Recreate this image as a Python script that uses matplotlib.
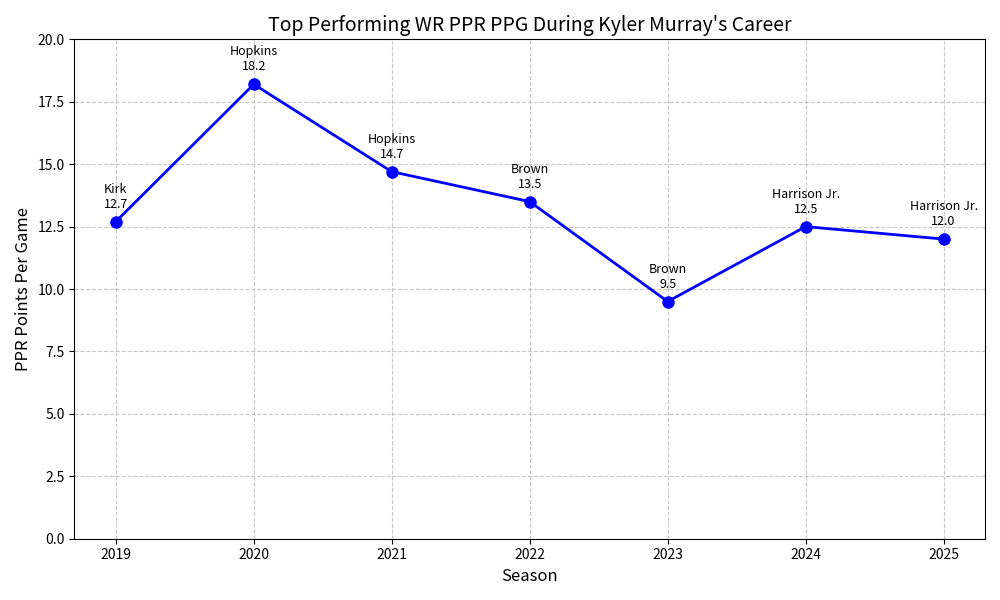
import matplotlib
matplotlib.use("Agg")
from matplotlib import pyplot as plt

plt.rcParams['font.family'] = ['Noto Sans CJK JP', 'DejaVu Sans']

seasons = [2019, 2020, 2021, 2022, 2023, 2024, 2025]
ppg = [12.7, 18.2, 14.7, 13.5, 9.5, 12.5, 12.0]
players = ["Kirk", "Hopkins", "Hopkins", "Brown", "Brown", "Harrison Jr.", "Harrison Jr."]

fig, ax = plt.subplots(figsize=(10, 6), dpi=100)
ax.plot(seasons, ppg, color="blue", marker="o", linewidth=2, markersize=8)

for s, v, p in zip(seasons, ppg, players):
    ax.annotate(f"{p}\n{v:.1f}", (s, v), textcoords="offset points",
                xytext=(0, 10), ha="center", fontsize=9)

ax.set_title("Top Performing WR PPR PPG During Kyler Murray's Career", fontsize=14)
ax.set_xlabel("Season", fontsize=12)
ax.set_ylabel("PPR Points Per Game", fontsize=12)
ax.set_ylim(0, 20)
ax.set_xticks(seasons)
ax.grid(True, linestyle="--", alpha=0.7)

plt.tight_layout()
plt.savefig("out.png")
